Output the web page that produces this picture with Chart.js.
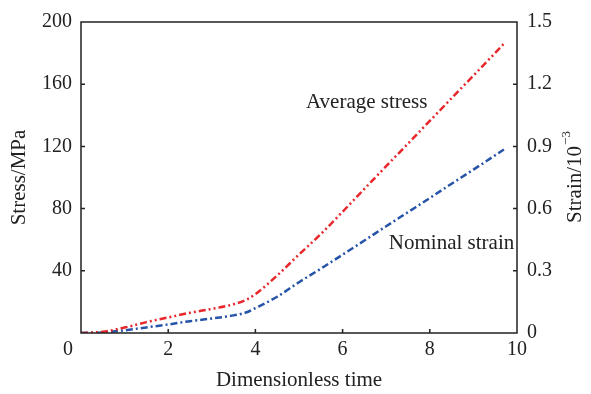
<!DOCTYPE html>
<html>
<head>
<meta charset="utf-8">
<script src="https://cdn.jsdelivr.net/npm/chart.js@4"></script>
<style>
  html, body { margin: 0; padding: 0; background: #fff; }
  #chart { display: block; }
</style>
</head>
<body>
<canvas id="chart" width="591" height="394"></canvas>
<script>
// values
const time = [0, 0.5, 1, 1.5, 2, 2.5, 3, 3.5, 3.8, 4, 4.5, 5, 5.5, 6, 6.5, 7, 7.5, 8, 8.5, 9, 9.7];
const stress = [0, 0.8, 3.5, 7, 10, 13, 15.5, 18.5, 21.5, 25, 37, 50.5, 63.6, 78, 92.7, 107.3, 121.8, 136.4, 151, 165.5, 186];
const strain = [0, 0.003, 0.013, 0.027, 0.041, 0.057, 0.07, 0.085, 0.1, 0.12, 0.175, 0.245, 0.31, 0.378, 0.446, 0.515, 0.583, 0.651, 0.72, 0.788, 0.885];

const stressTicks = [0, 40, 80, 120, 160, 200];
const strainTicks = [0, 0.3, 0.6, 0.9, 1.2, 1.5];
const timeTicks = [0, 2, 4, 6, 8, 10];

const serif = '"Liberation Serif", "Times New Roman", serif';
const ink = '#222';

// frame, inward tick marks, shared "0", right title and curve labels
const decorations = {
    id: 'decorations',
    afterDatasetsDraw(chart) {
        const { ctx, chartArea: a, scales } = chart;
        ctx.save();
        ctx.strokeStyle = ink;
        ctx.lineWidth = 1.5;
        ctx.strokeRect(a.left, a.top, a.right - a.left, a.bottom - a.top);

        ctx.beginPath();
        timeTicks.slice(1, -1).forEach(v => {
            const px = scales.x.getPixelForValue(v);
            ctx.moveTo(px, a.bottom);
            ctx.lineTo(px, a.bottom - 4);
        });
        stressTicks.slice(1, -1).forEach(v => {
            const py = scales.y.getPixelForValue(v);
            ctx.moveTo(a.left, py);
            ctx.lineTo(a.left + 4, py);
        });
        strainTicks.slice(1, -1).forEach(v => {
            const py = scales.y2.getPixelForValue(v);
            ctx.moveTo(a.right, py);
            ctx.lineTo(a.right - 4, py);
        });
        ctx.stroke();

        ctx.fillStyle = ink;
        ctx.font = '20px ' + serif;
        ctx.textAlign = 'center';
        ctx.textBaseline = 'middle';
        ctx.fillText('0', scales.x.getPixelForValue(0) - 13, 350);

        // right axis title, reads bottom to top
        ctx.save();
        ctx.translate(575, (a.top + a.bottom) / 2);
        ctx.rotate(-Math.PI / 2);
        ctx.font = '21px ' + serif;
        const main = 'Strain/10';
        const w1 = ctx.measureText(main).width;
        ctx.font = '13px ' + serif;
        const sup = '\u22123';
        const w2 = ctx.measureText(sup).width;
        const start = -(w1 + w2) / 2;
        ctx.textAlign = 'left';
        ctx.font = '21px ' + serif;
        ctx.fillText(main, start, 0);
        ctx.font = '13px ' + serif;
        ctx.fillText(sup, start + w1 + 1, -8);
        ctx.restore();

        ctx.font = '21px ' + serif;
        ctx.textAlign = 'left';
        ctx.fillText('Average stress', scales.x.getPixelForValue(5.16), scales.y.getPixelForValue(148));
        ctx.fillText('Nominal strain', scales.x.getPixelForValue(7.06), scales.y2.getPixelForValue(0.432));
        ctx.restore();
    }
};

const tickFont = { family: serif, size: 20 };
const titleFont = { family: serif, size: 21 };

new Chart(document.getElementById('chart'), {
    type: 'line',
    data: {
        datasets: [{
            label: 'Average stress',
            data: time.map((t, i) => ({ x: t, y: stress[i] })),
            yAxisID: 'y',
            borderColor: '#e8262b',
            borderWidth: 2.5,
            borderDash: [7, 3, 2, 3, 2, 3],
            pointRadius: 0,
            cubicInterpolationMode: 'monotone',
            fill: false
        }, {
            label: 'Nominal strain',
            data: time.map((t, i) => ({ x: t, y: strain[i] })),
            yAxisID: 'y2',
            borderColor: '#2554a8',
            borderWidth: 2.5,
            borderDash: [7, 3, 2, 3],
            pointRadius: 0,
            cubicInterpolationMode: 'monotone',
            fill: false
        }]
    },
    options: {
        responsive: false,
        animation: false,
        devicePixelRatio: 1,
        layout: { padding: { top: 17, left: 0, right: 0, bottom: 0 } },
        plugins: {
            legend: { display: false },
            tooltip: { enabled: false }
        },
        scales: {
            x: {
                type: 'linear',
                min: 0,
                max: 10,
                afterFit: s => { s.height = 61; },
                afterBuildTicks: s => { s.ticks = timeTicks.map(v => ({ value: v })); },
                grid: { display: false, drawTicks: false },
                border: { display: false },
                ticks: {
                    color: ink,
                    font: tickFont,
                    padding: 5,
                    maxRotation: 0,
                    callback: v => v === 0 ? '' : v
                },
                title: {
                    display: true,
                    text: 'Dimensionless time',
                    color: ink,
                    font: titleFont,
                    padding: { top: 0, bottom: 1 }
                }
            },
            y: {
                position: 'left',
                min: 0,
                max: 200,
                afterFit: s => { s.width = 81; },
                afterBuildTicks: s => { s.ticks = stressTicks.map(v => ({ value: v })); },
                grid: { display: false, drawTicks: false },
                border: { display: false },
                ticks: {
                    color: ink,
                    font: tickFont,
                    padding: 9,
                    callback: v => v === 0 ? '' : v
                },
                title: {
                    display: true,
                    text: 'Stress/MPa',
                    color: ink,
                    font: titleFont,
                    padding: { top: 7, bottom: 0 }
                }
            },
            y2: {
                position: 'right',
                min: 0,
                max: 1.5,
                afterFit: s => { s.width = 74; },
                afterBuildTicks: s => { s.ticks = strainTicks.map(v => ({ value: v })); },
                grid: { display: false, drawTicks: false },
                border: { display: false },
                ticks: {
                    color: ink,
                    font: tickFont,
                    padding: 10,
                    callback: v => v === 0 ? '0' : v.toFixed(1)
                }
            }
        }
    },
    plugins: [decorations]
});
</script>
</body>
</html>
